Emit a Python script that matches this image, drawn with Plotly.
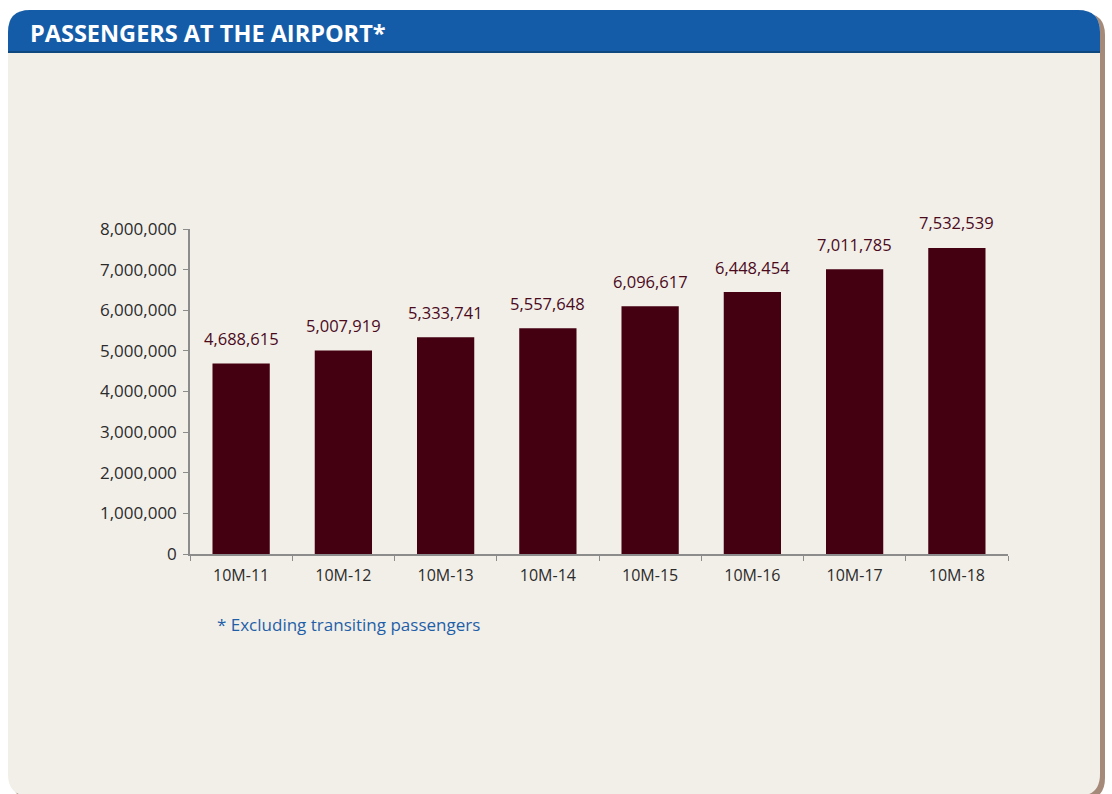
import plotly.graph_objects as go

categories = ["10M-11", "10M-12", "10M-13", "10M-14", "10M-15", "10M-16", "10M-17", "10M-18"]
passengers = [4688615, 5007919, 5333741, 5557648, 6096617, 6448454, 7011785, 7532539]
y_ticks = [0, 1000000, 2000000, 3000000, 4000000, 5000000, 6000000, 7000000, 8000000]

W, H = 1112, 794
ML, MR, MT, MB = 190, 104, 229, 240
PW, PH = W - ML - MR, H - MT - MB

def px(x):
    return (x - ML) / PW

def py(y):
    return (H - MB - y) / PH

def rrect(x0, y0, x1, y1, r, top=True, bottom=True):
    rt = r if top else 0
    rb = r if bottom else 0
    pts = []
    pts.append(f"M {px(x0)},{py(y0 + rt)}")
    if rt:
        pts.append(f"Q {px(x0)},{py(y0)} {px(x0 + rt)},{py(y0)}")
    pts.append(f"L {px(x1 - rt)},{py(y0)}")
    if rt:
        pts.append(f"Q {px(x1)},{py(y0)} {px(x1)},{py(y0 + rt)}")
    pts.append(f"L {px(x1)},{py(y1 - rb)}")
    if rb:
        pts.append(f"Q {px(x1)},{py(y1)} {px(x1 - rb)},{py(y1)}")
    pts.append(f"L {px(x0 + rb)},{py(y1)}")
    if rb:
        pts.append(f"Q {px(x0)},{py(y1)} {px(x0)},{py(y1 - rb)}")
    pts.append("Z")
    return " ".join(pts)

bar_color = "#440010"
label_color = "#4a0a1c"

fig = go.Figure(go.Bar(
    x=categories, y=passengers,
    marker=dict(color=bar_color, line=dict(width=0)),
    width=0.56,
))

shapes = [
    dict(type="path", xref="paper", yref="paper", layer="below",
         path=rrect(12, 13, 1105, 800, 22), fillcolor="#a58a79", line=dict(width=0)),
    dict(type="path", xref="paper", yref="paper", layer="below",
         path=rrect(8, 10, 1100, 796, 22), fillcolor="#f2efe9", line=dict(width=0)),
    dict(type="path", xref="paper", yref="paper", layer="below",
         path=rrect(8, 10, 1100, 52, 22, bottom=False), fillcolor="#155ca8", line=dict(width=0)),
    dict(type="line", xref="paper", yref="paper", layer="below",
         x0=px(8), x1=px(1100), y0=py(52), y1=py(52), line=dict(color="#0f477f", width=2)),
]

annotations = [
    dict(text="<b>PASSENGERS AT THE AIRPORT*</b>", xref="paper", yref="paper",
         x=px(28), y=py(33), xanchor="left", yanchor="middle", showarrow=False,
         font=dict(color="white", size=23.5, family="Open Sans")),
    dict(text="* Excluding transiting passengers", xref="paper", yref="paper",
         x=px(215), y=py(624), xanchor="left", yanchor="middle", showarrow=False,
         font=dict(color="#1f5fa8", size=17, family="Open Sans")),
]
for c, v in zip(categories, passengers):
    annotations.append(dict(
        text=f"{v:,}", x=c, y=v, xref="x", yref="y", showarrow=False,
        yanchor="middle", yshift=25,
        font=dict(color=label_color, size=16.5, family="Open Sans"),
    ))

fig.update_layout(
    width=W, height=H,
    margin=dict(l=ML, r=MR, t=MT, b=MB),
    paper_bgcolor="white", plot_bgcolor="rgba(0,0,0,0)",
    showlegend=False,
    shapes=shapes, annotations=annotations,
    font=dict(family="Open Sans", size=16, color="#2b2b2b"),
)
fig.update_xaxes(
    showline=True, linecolor="#8c8c8c", linewidth=1.5,
    ticks="outside", ticklen=5, tickcolor="#8c8c8c", tickson="boundaries",
    ticklabelstandoff=6,
    showgrid=False, tickfont=dict(size=16, color="#2b2b2b"),
)
fig.update_yaxes(
    range=[0, 8000000], tickvals=y_ticks, tickformat=",d",
    showline=True, linecolor="#8c8c8c", linewidth=1.5,
    ticks="outside", ticklen=5, tickcolor="#8c8c8c",
    ticklabelstandoff=3,
    showgrid=False, zeroline=False, tickfont=dict(size=17, color="#2b2b2b"),
)

fig.write_html("out.html")
